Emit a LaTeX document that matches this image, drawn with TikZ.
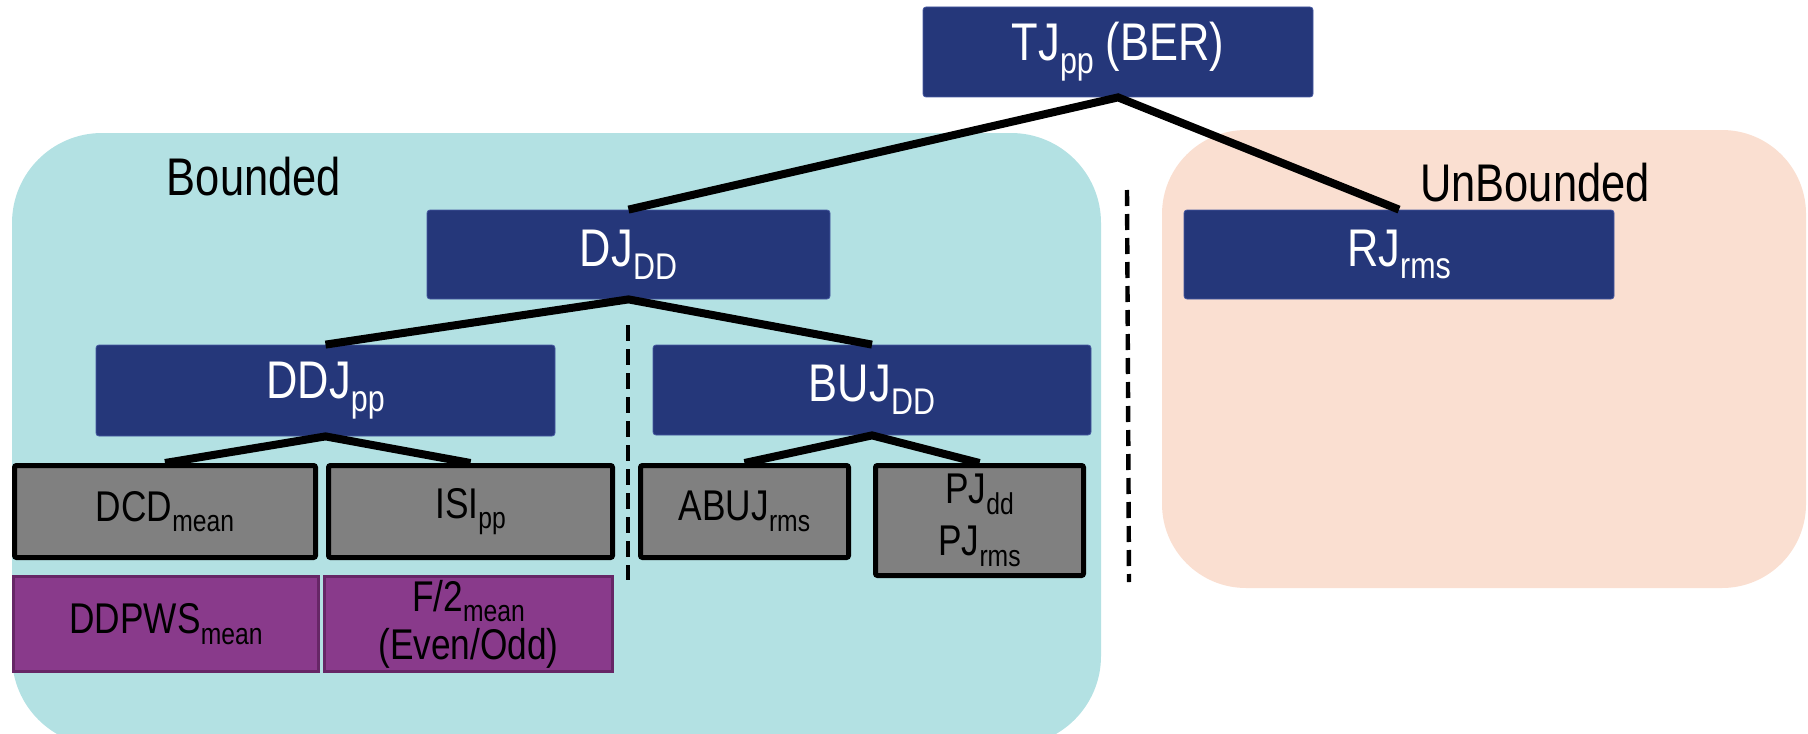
\documentclass[tikz,border=0pt]{standalone}
\usepackage{fontspec}
\setmainfont[FakeStretch=0.82]{Liberation Sans}
\usepackage{graphicx}
\definecolor{navyc}{RGB}{37,55,122}
\definecolor{navyedge}{RGB}{70,88,160}
\definecolor{cyanbg}{RGB}{179,225,227}
\definecolor{peachbg}{RGB}{250,223,209}
\definecolor{grayc}{RGB}{128,128,128}
\definecolor{purplec}{RGB}{137,58,139}
\definecolor{purpleedge}{RGB}{102,38,102}
\newcommand\lo[1]{\raisebox{-0.24em}{\scalebox{0.7}{#1}}}
\begin{document}
\begin{tikzpicture}[x=0.5pt,y=-0.5pt,
  navybox/.style={rectangle, rounded corners=1.5pt, fill=navyc, draw=navyedge, line width=0.4pt,
    text=white, font=\fontsize{26.5}{30}\selectfont, inner sep=0pt},
  graybox/.style={rectangle, rounded corners=1pt, fill=grayc, draw=black, line width=2.5pt,
    font=\fontsize{21.5}{25}\selectfont, align=center, inner sep=0pt},
  purplebox/.style={rectangle, fill=purplec, draw=purpleedge, line width=1.6pt,
    font=\fontsize{21.5}{24}\selectfont, align=center, inner sep=0pt},
  conn/.style={line width=4pt, draw=black},
  sepline/.style={line width=2.2pt, draw=black, dash pattern=on 8pt off 4pt},
  regionlabel/.style={font=\fontsize{26.5}{30}\selectfont, inner sep=0pt}
]
\useasboundingbox (0,0) rectangle (1808,733);
\clip (0,0) rectangle (1808,733);
% regions
\fill[cyanbg, rounded corners=45pt] (12,133) rectangle (1101,746);
\fill[peachbg, rounded corners=42pt] (1162,130) rectangle (1806,588);
\node[regionlabel] (bounded) at (254,177) {Bounded};
\node[regionlabel] (unbounded) at (1535,183) {UnBounded};
% navy boxes
\node[navybox, minimum width=195pt, minimum height=45pt] (tj) at (1118,52) {TJ\lo{pp} (BER)};
\node[navybox, minimum width=201.5pt, minimum height=44.5pt] (dj) at (628.5,254.5) {DJ\lo{DD}};
\node[navybox, minimum width=215pt, minimum height=44.5pt] (rj) at (1399,254.5) {RJ\lo{rms}};
\node[navybox, minimum width=229.5pt, minimum height=45.5pt] (ddj) at (325.5,390.5) {DDJ\lo{pp}};
\node[navybox, minimum width=219pt, minimum height=45pt] (buj) at (872,390) {BUJ\lo{DD}};
% gray boxes
\node[graybox, minimum width=150.5pt, minimum height=46pt] (dcd) at (165,511.5) {DCD\lo{mean}};
\node[graybox, minimum width=142pt, minimum height=46pt] (isi) at (470.5,511.5) {ISI\lo{pp}};
\node[graybox, minimum width=104pt, minimum height=46pt] (abuj) at (744.5,511.5) {ABUJ\lo{rms}};
\node[graybox, minimum width=104pt, minimum height=55pt] (pj) at (979.5,520.5) {PJ\lo{dd}\\[1pt]PJ\lo{rms}};
% purple boxes
\node[purplebox, minimum width=152.5pt, minimum height=47.5pt] (ddpws) at (166,624) {DDPWS\lo{mean}};
\node[purplebox, minimum width=144pt, minimum height=47.5pt] (f2) at (468.5,624) {F/2\lo{mean}\\(Even/Odd)};
% connectors
\draw[conn] (dj.north) -- (tj.south) -- (rj.north);
\draw[conn] (ddj.north) -- (dj.south) -- (buj.north);
\draw[conn] (dcd.north) -- (ddj.south) -- (isi.north);
\draw[conn] (abuj.north) -- (buj.south) -- (pj.north);
% separators
\coordinate (s1a) at (628,325);
\coordinate (s1b) at (628,580);
\coordinate (s2a) at (1127,190);
\coordinate (s2b) at (1129,582);
\draw[sepline] (s1a) -- (s1b);
\draw[sepline] (s2a) -- (s2b);
\end{tikzpicture}
\end{document}
